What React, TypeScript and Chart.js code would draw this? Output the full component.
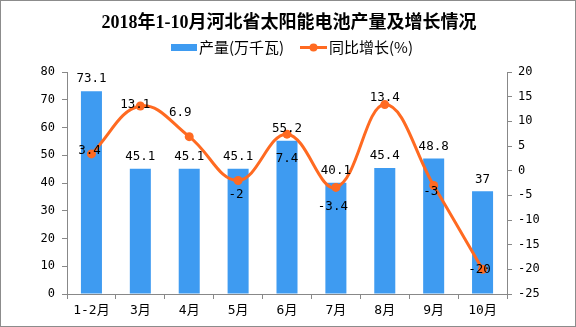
import React, { useEffect, useRef } from 'react';
import { Chart, registerables } from 'chart.js';

Chart.register(...registerables);

const TITLE = '2018年1-10月河北省太阳能电池产量及增长情况';
const categories = ['1-2月', '3月', '4月', '5月', '6月', '7月', '8月', '9月', '10月'];
const outputValues = [73.1, 45.1, 45.1, 45.1, 55.2, 40.1, 45.4, 48.8, 37];
const growthValues = [3.4, 13.1, 6.9, -2, 7.4, -3.4, 13.4, -3, -20];
const outputLabel = '产量(万千瓦)';
const growthLabel = '同比增长(%)';

// label placement tweaks (style, not data)
const growthLabelOffsets: [number, number][] = [
  [-2, -3], [-5, -1], [-9, -24], [-2, 14], [0, 25], [-3, 19], [0, -7], [-3, 6], [-3, 0],
];

const BAR_COLOR = '#3E9BF1';
const LINE_COLOR = '#FF6A21';
const AXIS_COLOR = '#888888';
const MONO = '"DejaVu Sans Mono", "Noto Sans CJK SC"';
const CJK = '"Noto Sans CJK SC"';

const decorPlugin = {
  id: 'decor',
  beforeDraw(chart: any) {
    const ctx = chart.ctx;
    ctx.save();
    ctx.fillStyle = '#ffffff';
    ctx.fillRect(0, 0, chart.width, chart.height);
    ctx.restore();
  },
  afterDraw(chart: any) {
    const ctx = chart.ctx;
    ctx.save();
    // outer border
    ctx.strokeStyle = '#8c8c8c';
    ctx.lineWidth = 1;
    ctx.strokeRect(0.5, 0.5, chart.width - 1, chart.height - 1);

    // title
    ctx.fillStyle = '#000';
    ctx.font = 'bold 18px "Liberation Serif", "Noto Sans CJK SC"';
    ctx.textAlign = 'center';
    ctx.textBaseline = 'middle';
    ctx.fillText(TITLE, 289, 23);

    // legend
    ctx.textAlign = 'left';
    ctx.font = '15px ' + CJK;
    ctx.fillStyle = BAR_COLOR;
    ctx.fillRect(171, 44, 26, 7);
    ctx.fillStyle = '#000';
    ctx.fillText(outputLabel, 199, 47.5);
    ctx.strokeStyle = LINE_COLOR;
    ctx.lineWidth = 3;
    ctx.beginPath();
    ctx.moveTo(300, 47.5);
    ctx.lineTo(327, 47.5);
    ctx.stroke();
    ctx.fillStyle = LINE_COLOR;
    ctx.beginPath();
    ctx.arc(313.5, 47.5, 4, 0, Math.PI * 2);
    ctx.fill();
    ctx.fillStyle = '#000';
    ctx.fillText(growthLabel, 329, 47.5);

    // data labels
    ctx.font = '12.5px ' + MONO;
    ctx.textAlign = 'center';
    ctx.textBaseline = 'middle';
    const barMeta = chart.getDatasetMeta(0);
    barMeta.data.forEach((el: any, i: number) => {
      ctx.fillText(String(outputValues[i]), el.x, el.y - 12);
    });
    const lineMeta = chart.getDatasetMeta(1);
    lineMeta.data.forEach((el: any, i: number) => {
      const [dx, dy] = growthLabelOffsets[i] || [0, 0];
      ctx.fillText(String(growthValues[i]), el.x + dx, el.y + dy);
    });
    ctx.restore();
  },
};

export default function App() {
  const canvasRef = useRef<HTMLCanvasElement | null>(null);

  useEffect(() => {
    document.body.style.margin = '0';
    const canvas = canvasRef.current;
    if (!canvas) return;
    const chart = new Chart(canvas, {
      type: 'bar',
      data: {
        labels: categories,
        datasets: [
          {
            type: 'bar',
            label: outputLabel,
            data: outputValues,
            yAxisID: 'y',
            backgroundColor: BAR_COLOR,
            barPercentage: 0.43,
            categoryPercentage: 1,
            order: 1,
          },
          {
            type: 'line',
            label: growthLabel,
            data: growthValues,
            yAxisID: 'y1',
            borderColor: LINE_COLOR,
            backgroundColor: LINE_COLOR,
            borderWidth: 3,
            pointRadius: 4.5,
            pointBackgroundColor: LINE_COLOR,
            pointBorderWidth: 0,
            tension: 0.4,
            order: 0,
          } as any,
        ],
      },
      options: {
        responsive: false,
        animation: false,
        devicePixelRatio: 1,
        layout: { padding: { top: 72, left: 0, right: 0, bottom: 0 } },
        plugins: {
          legend: { display: false },
          title: { display: false },
          tooltip: { enabled: false },
        },
        scales: {
          x: {
            offset: true,
            grid: {
              display: true,
              offset: true,
              drawOnChartArea: false,
              drawTicks: true,
              tickLength: 5,
              color: AXIS_COLOR,
            },
            border: { display: true, color: AXIS_COLOR },
            ticks: {
              color: '#000',
              font: { family: MONO, size: 13 },
              padding: 4,
              autoSkip: false,
              maxRotation: 0,
            },
            afterFit: (s: any) => { s.height = 33; },
          },
          y: {
            position: 'left',
            min: 0,
            max: 80,
            grid: {
              drawOnChartArea: false,
              drawTicks: true,
              tickLength: 5,
              color: AXIS_COLOR,
            },
            border: { display: true, color: AXIS_COLOR },
            ticks: {
              stepSize: 10,
              color: '#000',
              font: { family: MONO, size: 12 },
              padding: 7,
            },
            afterFit: (s: any) => { s.width = 67; },
          },
          y1: {
            position: 'right',
            min: -25,
            max: 20,
            grid: {
              drawOnChartArea: false,
              drawTicks: true,
              tickLength: 5,
              color: AXIS_COLOR,
            },
            border: { display: true, color: AXIS_COLOR },
            ticks: {
              stepSize: 5,
              color: '#000',
              font: { family: MONO, size: 12 },
              padding: 6,
            },
            afterFit: (s: any) => { s.width = 69; },
          },
        },
      },
      plugins: [decorPlugin],
    });
    return () => chart.destroy();
  }, []);

  return (
    <div style={{ position: 'absolute', left: 0, top: 0, width: 576, height: 327 }}>
      <canvas ref={canvasRef} width={576} height={327} style={{ display: 'block' }} />
    </div>
  );
}
